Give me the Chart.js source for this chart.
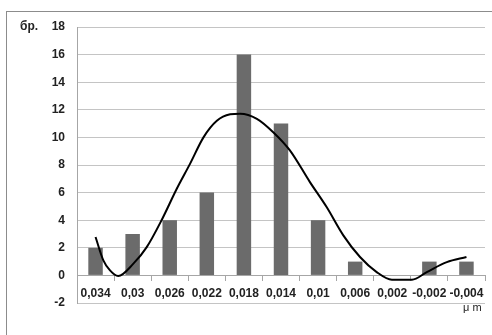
<!DOCTYPE html>
<html>
<head>
<meta charset="utf-8">
<script src="https://cdn.jsdelivr.net/npm/chart.js@4"></script>
<style>
    body { margin: 0; background: #fff; overflow: hidden; }
    #frame { position: absolute; left: 6px; top: 11px; width: 600px; height: 600px; border: 1px solid #8c8c8c; }
    #chart { position: absolute; left: 0; top: 0; }
</style>
</head>
<body>
<div id="frame"></div>
<canvas id="chart" width="492" height="335"></canvas>
<script>
const categories = ["0,034", "0,03", "0,026", "0,022", "0,018", "0,014", "0,01", "0,006", "0,002", "-0,002", "-0,004"];
const counts = [2, 3, 4, 6, 16, 11, 4, 1, 0, 1, 1];

// fitted curve, x in category positions (0 = first bar)
const curveX = [0, 0.21, 0.39, 0.61, 1.02, 1.38, 1.78, 2.19, 2.55, 2.91, 3.27, 3.63, 3.9, 4.35, 4.79, 5.24, 5.78, 6.23, 6.68, 7.13, 7.58, 7.99, 8.53, 8.93, 9.47, 10];
const curveY = [2.78, 1.09, 0.36, -0.05, 0.85, 2.05, 4.0, 6.28, 8.1, 10.0, 11.2, 11.67, 11.72, 11.35, 10.38, 9.06, 6.76, 4.95, 2.9, 1.33, 0.24, -0.31, -0.31, 0.24, 0.96, 1.33];

const yTicks = [-2, 0, 2, 4, 6, 8, 10, 12, 14, 16, 18];

const labelFont = { family: "Liberation Sans", size: 12, weight: "bold" };

const axisTitles = {
    id: "axisTitles",
    afterDraw(chart) {
        const ctx = chart.ctx;
        ctx.save();
        ctx.fillStyle = "#222";
        ctx.font = "bold 12px 'Liberation Sans'";
        ctx.textBaseline = "middle";
        ctx.fillText("бр.", 20, 27);
        ctx.font = "11px 'Liberation Sans'";
        ctx.fillText("μ m", 463, 308);
        ctx.restore();
    }
};

new Chart(document.getElementById("chart"), {
    data: {
        labels: categories,
        datasets: [
            {
                type: "line",
                data: curveX.map((x, i) => ({ x, y: curveY[i] })),
                xAxisID: "xl",
                borderColor: "#000",
                borderWidth: 2,
                pointRadius: 0,
                cubicInterpolationMode: "monotone",
                fill: false,
                order: 0
            },
            {
                type: "bar",
                data: counts,
                xAxisID: "x",
                backgroundColor: "#6b6b6b",
                grouped: false,
                categoryPercentage: 1,
                barPercentage: 0.39,
                order: 1
            }
        ]
    },
    options: {
        responsive: false,
        animation: false,
        layout: { padding: { left: 0, top: 27, right: 7, bottom: 32 } },
        plugins: { legend: { display: false }, tooltip: { enabled: false } },
        scales: {
            x: {
                type: "category",
                position: { y: 0 },
                offset: true,
                grid: { drawOnChartArea: false, drawTicks: true, tickLength: 5, color: "#a6a6a6", offset: true },
                border: { color: "#a6a6a6" },
                ticks: { color: "#222", font: labelFont, padding: 6, maxRotation: 0, autoSkip: false }
            },
            xl: {
                type: "linear",
                display: false,
                min: -0.5,
                max: 10.5
            },
            y: {
                min: -2,
                max: 18,
                afterBuildTicks: s => { s.ticks = yTicks.map(v => ({ value: v })); },
                afterFit: s => { s.width = 77; },
                grid: { color: "#c4c4c4", drawTicks: false },
                border: { color: "#a6a6a6" },
                ticks: { color: "#222", font: labelFont, padding: 12 }
            }
        }
    },
    plugins: [axisTitles]
});
</script>
</body>
</html>
